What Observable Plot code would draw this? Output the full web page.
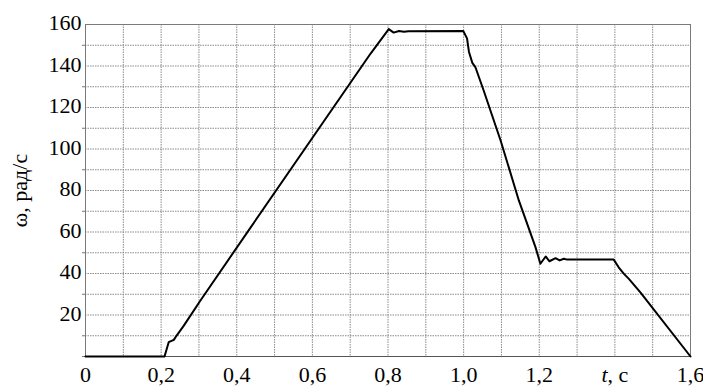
<!DOCTYPE html>
<html>
<head>
<meta charset="utf-8">
<script src="https://cdn.jsdelivr.net/npm/d3@7"></script>
<script src="https://cdn.jsdelivr.net/npm/@observablehq/plot@0.6"></script>
<style>
  html, body { margin: 0; padding: 0; background: #fff; }
  #chart { width: 703px; height: 387px; }
  #chart svg text { font-family: "Liberation Serif", "Times New Roman", serif !important; }
</style>
</head>
<body>
<div id="chart"></div>
<script>
// time, s
const tValues = [0, 0.209, 0.220, 0.2335, 0.241, 0.260, 0.304, 0.436, 0.754, 0.802, 0.815, 0.829, 0.842, 0.854, 0.999, 1.009, 1.014, 1.023, 1.031, 1.053, 1.098, 1.146, 1.190, 1.203, 1.217, 1.227, 1.243, 1.254, 1.265, 1.274, 1.397, 1.410, 1.424, 1.437, 1.468, 1.6];
// angular speed, rad/s
const omegaValues = [0, 0, 6.9, 8.0, 10.1, 14.9, 27, 62, 146, 157.8, 156.1, 156.9, 156.5, 156.8, 156.9, 153.3, 146.9, 141.5, 139.5, 128.2, 104, 75.2, 52.7, 44.7, 48.2, 45.9, 47.4, 46.3, 47.1, 46.7, 46.7, 43, 39.8, 37.4, 30.8, 0];

const xLabelTicks = [0, 0.2, 0.4, 0.6, 0.8, 1.0, 1.2, 1.4, 1.6];
const yLabelTicks = [20, 40, 60, 80, 100, 120, 140, 160];
const xGridTicks = [0.1, 0.2, 0.3, 0.4, 0.5, 0.6, 0.7, 0.8, 0.9, 1.0, 1.1, 1.2, 1.3, 1.4, 1.5];
const yGridTicks = [10, 20, 30, 40, 50, 60, 70, 80, 90, 100, 110, 120, 130, 140, 150];
const yMinorTicks = [0, 10, 30, 50, 70, 90, 110, 130, 150];
const xAxisTitle = "t, c";
const yAxisTitle = "ω, рад/с";

const data = tValues.map((t, i) => ({t, w: omegaValues[i]}));
const font = "Liberation Serif";

const plot = Plot.plot({
  width: 703,
  height: 387,
  marginLeft: 85,
  marginRight: 13,
  marginTop: 24,
  marginBottom: 31,
  style: {fontFamily: font, fontSize: "22px", background: "#fff", color: "#000"},
  x: {domain: [0, 1.6]},
  y: {domain: [0, 160]},
  marks: [
    Plot.gridX(xGridTicks, {stroke: "#8a8a8a", strokeOpacity: 1, strokeDasharray: "1.5,1"}),
    Plot.gridY(yGridTicks, {stroke: "#8a8a8a", strokeOpacity: 1, strokeDasharray: "1.5,1"}),
    Plot.frame({stroke: "#7a7a7a"}),
    Plot.ruleY([0], {stroke: "#555"}),
    Plot.axisY(yMinorTicks, {tickSize: 3, tickFormat: () => "", stroke: "#6a7a90", label: null}),
    Plot.axisY(yLabelTicks, {tickSize: 0, tickPadding: 4, dy: -1.5, fontSize: 22, fontFamily: font, fill: "#000",
      label: null}),
    Plot.axisY(yLabelTicks, {tickSize: 0, tickFormat: () => "", fontSize: 22, fontFamily: font, fill: "#000",
      label: yAxisTitle, labelAnchor: "center", labelArrow: "none", labelOffset: 74}),
    Plot.axisX(xLabelTicks, {tickSize: 0, tickPadding: 10, fontSize: 22, fontFamily: font, fill: "#000",
      tickFormat: d => Math.abs(d - 1.4) < 1e-9 ? xAxisTitle : (d === 0 ? "0" : d.toFixed(1).replace(".", ",")),
      label: null}),
    Plot.line(data, {x: "t", y: "w", stroke: "#000", strokeWidth: 2, curve: "linear"})
  ]
});

document.getElementById("chart").appendChild(plot);

// italic "t" in the x axis title
plot.querySelectorAll("text").forEach(el => {
  if (el.textContent === xAxisTitle) {
    el.textContent = "";
    const ns = "http://www.w3.org/2000/svg";
    const a = document.createElementNS(ns, "tspan");
    a.setAttribute("font-style", "italic");
    a.textContent = "t";
    const b = document.createElementNS(ns, "tspan");
    b.textContent = ", c";
    el.appendChild(a);
    el.appendChild(b);
  }
});
</script>
</body>
</html>
